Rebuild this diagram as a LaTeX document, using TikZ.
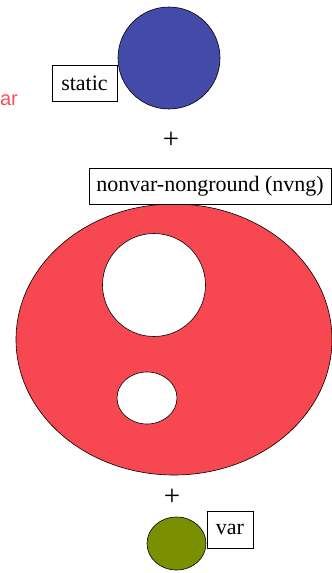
\documentclass[tikz,border=0pt]{standalone}
\usepackage{fontspec}
\setmainfont{Liberation Serif}
\newfontfamily\arialfont{Liberation Sans}
\usetikzlibrary{shapes.geometric}
\definecolor{blobblue}{RGB}{68,74,168}
\definecolor{blobred}{RGB}{247,72,82}
\definecolor{blobgreen}{RGB}{122,144,0}
\definecolor{labred}{RGB}{246,80,90}
\tikzset{
  labelbox/.style={draw=black, fill=white, line width=0.6pt, inner sep=0pt, font=\fontsize{22}{24}\selectfont},
  blob/.style={draw=black, line width=0.6pt, inner sep=0pt, ellipse},
  plussign/.style={inner sep=0pt, font=\fontsize{29}{30}\selectfont}
}
\begin{document}
\begin{tikzpicture}[x=1pt,y=-1pt]
\useasboundingbox (0,0) rectangle (332,573);
% static
\node[blob, fill=blobblue, minimum width=102pt, minimum height=102pt] (blue) at (169,58) {};
\node[labelbox, minimum width=65pt, minimum height=36pt] (static) at (84.5,83) {static};
\node[anchor=east, text=labred, inner sep=0pt, font=\arialfont\fontsize{20}{22}\selectfont] (ar) at (18,100) {ar};
\node[plussign] (plus1) at (171,140) {+};
% nvng
\node[blob, fill=blobred, minimum width=316pt, minimum height=271pt] (red) at (174,339.5) {};
\node[blob, fill=white, minimum width=103pt, minimum height=103pt] (hole1) at (154,285) {};
\node[blob, fill=white, minimum width=60pt, minimum height=52pt] (hole2) at (147,398) {};
\node[labelbox, minimum width=242pt, minimum height=36pt] (nvng) at (210,186) {nonvar-nonground (nvng)};
\node[plussign] (plus2) at (172,497) {+};
% var
\node[blob, fill=blobgreen, minimum width=59pt, minimum height=53pt] (green) at (176.5,543.5) {};
\node[labelbox, minimum width=46pt, minimum height=37pt] (var) at (230,529.5) {var};
\end{tikzpicture}
\end{document}
